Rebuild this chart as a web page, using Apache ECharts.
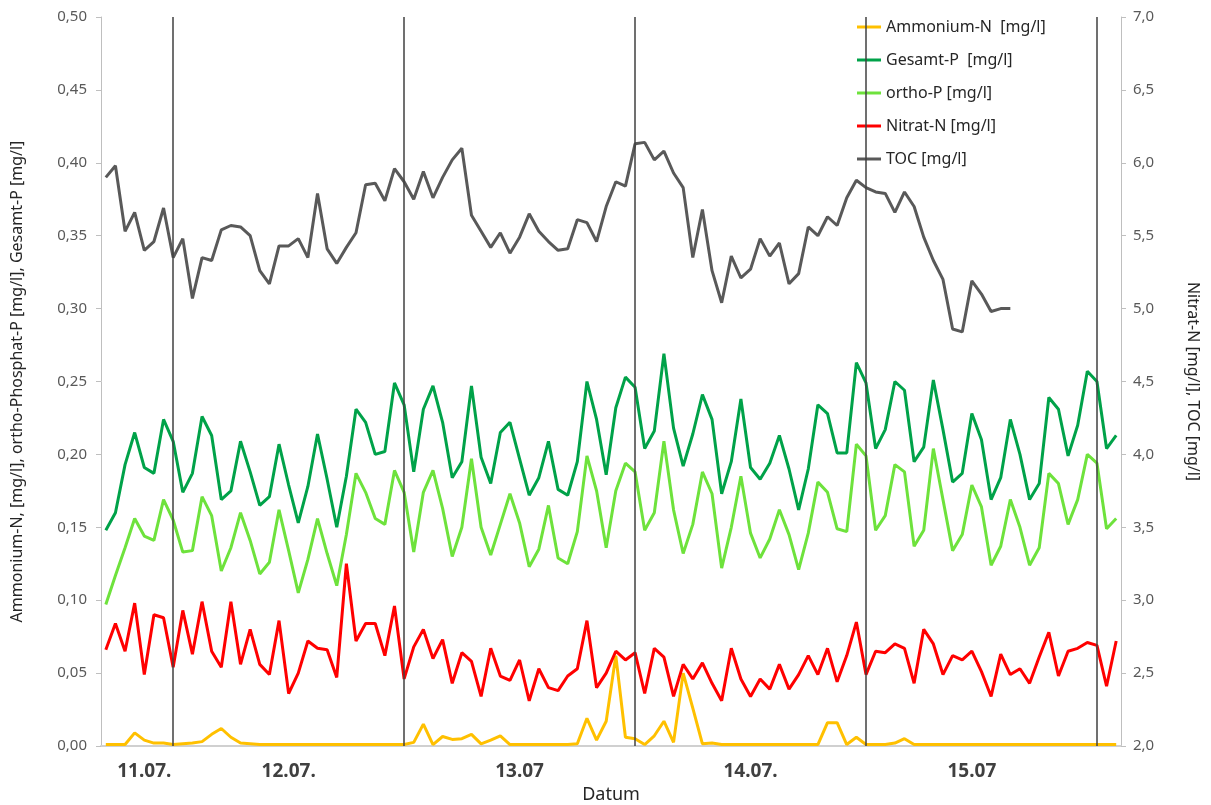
<!DOCTYPE html>
<html>
<head>
<meta charset="utf-8">
<script src="https://cdn.jsdelivr.net/npm/echarts@6/dist/echarts.min.js"></script>
<style>
html,body{margin:0;padding:0;background:#fff;}
#chart{width:1211px;height:805px;}
</style>
</head>
<body>
<div id="chart"></div>
<script>
// Hourly timestamps (10.07. 17:00 – 15.07. 02:00)
const categories = [
"10.07. 17:00","10.07. 18:00","10.07. 19:00","10.07. 20:00","10.07. 21:00","10.07. 22:00","10.07. 23:00",
"11.07. 00:00","11.07. 01:00","11.07. 02:00","11.07. 03:00","11.07. 04:00","11.07. 05:00","11.07. 06:00","11.07. 07:00","11.07. 08:00","11.07. 09:00","11.07. 10:00","11.07. 11:00","11.07. 12:00","11.07. 13:00","11.07. 14:00","11.07. 15:00","11.07. 16:00","11.07. 17:00","11.07. 18:00","11.07. 19:00","11.07. 20:00","11.07. 21:00","11.07. 22:00","11.07. 23:00",
"12.07. 00:00","12.07. 01:00","12.07. 02:00","12.07. 03:00","12.07. 04:00","12.07. 05:00","12.07. 06:00","12.07. 07:00","12.07. 08:00","12.07. 09:00","12.07. 10:00","12.07. 11:00","12.07. 12:00","12.07. 13:00","12.07. 14:00","12.07. 15:00","12.07. 16:00","12.07. 17:00","12.07. 18:00","12.07. 19:00","12.07. 20:00","12.07. 21:00","12.07. 22:00","12.07. 23:00",
"13.07. 00:00","13.07. 01:00","13.07. 02:00","13.07. 03:00","13.07. 04:00","13.07. 05:00","13.07. 06:00","13.07. 07:00","13.07. 08:00","13.07. 09:00","13.07. 10:00","13.07. 11:00","13.07. 12:00","13.07. 13:00","13.07. 14:00","13.07. 15:00","13.07. 16:00","13.07. 17:00","13.07. 18:00","13.07. 19:00","13.07. 20:00","13.07. 21:00","13.07. 22:00","13.07. 23:00",
"14.07. 00:00","14.07. 01:00","14.07. 02:00","14.07. 03:00","14.07. 04:00","14.07. 05:00","14.07. 06:00","14.07. 07:00","14.07. 08:00","14.07. 09:00","14.07. 10:00","14.07. 11:00","14.07. 12:00","14.07. 13:00","14.07. 14:00","14.07. 15:00","14.07. 16:00","14.07. 17:00","14.07. 18:00","14.07. 19:00","14.07. 20:00","14.07. 21:00","14.07. 22:00","14.07. 23:00",
"15.07. 00:00","15.07. 01:00","15.07. 02:00"
];

// x-axis tick labels (as printed in the original) and the category index they sit on
const xTickLabels = ["11.07.", "12.07.", "13.07", "14.07.", "15.07"];
const xTickIdx = [4, 19, 43, 67, 90];

// vertical day separator lines (midnight categories)
const dayLines = ["11.07. 00:00", "12.07. 00:00", "13.07. 00:00", "14.07. 00:00", "15.07. 00:00"];

const ammonium = [
0.001,0.001,0.001,0.009,0.004,0.002,0.002,0.001,0.0015,0.002,0.003,0.008,0.012,0.006,0.002,0.0015,
0.001,0.001,0.001,0.001,0.001,0.001,0.001,0.001,0.001,0.001,0.001,0.001,0.001,0.001,0.001,0.001,
0.0025,0.015,0.001,0.0065,0.0045,0.005,0.008,0.0015,0.004,0.007,
0.001,0.001,0.001,0.001,0.001,0.001,0.001,
0.0015,0.019,0.004,0.017,0.062,0.006,0.005,0.001,0.007,0.017,0.0025,0.050,0.026,0.0015,0.002,
0.001,0.001,0.001,0.001,0.001,0.001,0.001,0.001,0.001,0.001,0.001,
0.016,0.016,0.001,0.006,0.001,0.001,0.001,0.002,0.005,
0.001,0.001,0.001,0.001,0.001,0.001,0.001,0.001,0.001,0.001,0.001,0.001,0.001,0.001,0.001,0.001,0.001,0.001,0.001,0.001,0.001,0.001
];

const gesamtP = [
0.148,0.160,0.193,0.215,0.191,0.187,0.224,0.209,0.174,0.187,
0.226,0.213,0.169,0.175,0.209,0.188,0.165,0.171,0.207,0.179,
0.153,0.178,0.214,0.183,0.150,0.185,0.231,0.222,0.200,0.202,
0.249,0.234,0.188,0.231,0.247,0.222,0.184,0.195,0.247,0.198,
0.180,0.215,0.222,0.197,0.172,0.184,0.209,0.176,0.172,0.195,
0.250,0.224,0.186,0.232,0.253,0.246,0.204,0.216,0.269,0.218,
0.192,0.214,0.241,0.224,0.173,0.195,0.238,0.191,0.183,0.194,
0.213,0.190,0.162,0.190,0.234,0.228,0.201,0.201,0.263,0.249,
0.204,0.217,0.250,0.244,0.195,0.205,0.251,0.217,0.181,0.187,
0.228,0.210,0.169,0.184,0.224,0.200,0.169,0.180,0.239,0.231,
0.199,0.220,0.257,0.250,0.204,0.213
];

const orthoP = [
0.097,0.117,0.136,0.156,0.144,0.141,0.169,0.155,0.133,0.134,
0.171,0.158,0.120,0.136,0.160,0.141,0.118,0.126,0.162,0.134,
0.105,0.128,0.156,0.132,0.110,0.145,0.187,0.174,0.156,0.152,
0.189,0.174,0.133,0.174,0.189,0.163,0.130,0.150,0.197,0.150,
0.131,0.152,0.173,0.153,0.123,0.135,0.165,0.129,0.125,0.147,
0.199,0.175,0.136,0.175,0.194,0.188,0.148,0.160,0.209,0.162,
0.132,0.152,0.188,0.173,0.122,0.150,0.185,0.146,0.129,0.142,
0.162,0.145,0.121,0.146,0.181,0.174,0.149,0.147,0.207,0.199,
0.148,0.158,0.193,0.188,0.137,0.148,0.204,0.169,0.134,0.145,
0.179,0.164,0.124,0.137,0.169,0.150,0.124,0.136,0.187,0.180,
0.152,0.169,0.200,0.194,0.149,0.156
];

const nitratN = [
2.66,2.84,2.65,2.98,2.49,2.90,2.88,2.54,2.93,2.63,
2.99,2.65,2.54,2.99,2.56,2.80,2.56,2.49,2.86,2.36,
2.50,2.72,2.67,2.66,2.47,3.25,2.72,2.84,2.84,2.62,
2.96,2.46,2.68,2.80,2.60,2.73,2.43,2.64,2.58,2.34,
2.67,2.48,2.45,2.59,2.31,2.53,2.40,2.38,2.48,2.53,
2.86,2.40,2.50,2.65,2.59,2.64,2.36,2.67,2.61,2.34,
2.56,2.46,2.57,2.43,2.31,2.67,2.46,2.34,2.46,2.39,
2.56,2.39,2.49,2.62,2.49,2.67,2.44,2.62,2.85,2.49,
2.65,2.64,2.70,2.67,2.43,2.80,2.70,2.49,2.62,2.59,
2.65,2.51,2.34,2.63,2.49,2.53,2.43,2.61,2.78,2.48,
2.65,2.67,2.71,2.69,2.41,2.72
];

const toc = [
5.90,5.98,5.53,5.66,5.40,5.46,5.69,5.35,5.48,5.07,
5.35,5.33,5.54,5.57,5.56,5.50,5.26,5.17,5.43,5.43,
5.48,5.35,5.79,5.41,5.31,5.42,5.52,5.85,5.86,5.74,
5.96,5.87,5.75,5.94,5.76,5.90,6.02,6.10,5.64,5.53,
5.42,5.52,5.38,5.49,5.65,5.53,5.46,5.40,5.41,5.61,
5.59,5.46,5.70,5.87,5.84,6.13,6.14,6.02,6.08,5.93,
5.83,5.35,5.68,5.26,5.04,5.36,5.21,5.27,5.48,5.36,
5.45,5.17,5.24,5.56,5.50,5.63,5.57,5.76,5.88,5.83,
5.80,5.79,5.66,5.80,5.70,5.49,5.33,5.20,4.86,4.84,
5.19,5.10,4.98,5.00,5.00,
null,null,null,null,null,null,null,null,null,null,null
];

const seriesNames = ["Ammonium-N  [mg/l]", "Gesamt-P  [mg/l]", "ortho-P [mg/l]", "Nitrat-N [mg/l]", "TOC [mg/l]"];
const seriesColors = ["#FFC000", "#00A249", "#6EE23C", "#FF0000", "#595959"];

const FONT = "'Noto Sans', sans-serif";
const chart = echarts.init(document.getElementById('chart'), null, {renderer: 'canvas'});

function lineSeries(i, data, yIdx, extra) {
  return Object.assign({
    name: seriesNames[i],
    type: 'line',
    data: data,
    yAxisIndex: yIdx,
    symbol: 'none',
    showSymbol: false,
    smooth: false,
    connectNulls: false,
    lineStyle: {color: seriesColors[i], width: 3},
    itemStyle: {color: seriesColors[i]},
    emphasis: {disabled: true}
  }, extra || {});
}

chart.setOption({
  animation: false,
  backgroundColor: '#ffffff',
  textStyle: {fontFamily: FONT},
  grid: {left: 101, right: 90, top: 17, bottom: 59, containLabel: false, outerBoundsMode: 'none'},
  legend: {
    orient: 'vertical',
    left: 852,
    top: 12,
    padding: [5, 10, 5, 5],
    itemGap: 13,
    itemWidth: 24,
    itemHeight: 3,
    icon: 'rect',
    backgroundColor: '#ffffff',
    textStyle: {fontFamily: FONT, fontSize: 16, color: '#262626', lineHeight: 20},
    data: seriesNames
  },
  xAxis: {
    type: 'category',
    data: categories,
    boundaryGap: true,
    name: 'Datum',
    nameLocation: 'middle',
    nameGap: 40,
    nameTextStyle: {fontFamily: FONT, fontSize: 18, color: '#262626'},
    axisLine: {show: true, lineStyle: {color: '#d0d0d0', width: 2}},
    axisTick: {show: false},
    splitLine: {show: false},
    axisLabel: {
      interval: function (idx) { return xTickIdx.indexOf(idx) >= 0; },
      formatter: function (val, idx) { const k = xTickIdx.indexOf(idx); return k >= 0 ? xTickLabels[k] : ''; },
      fontFamily: FONT, fontSize: 19, fontWeight: 'bold', color: '#404040', margin: 16
    }
  },
  yAxis: [
    {
      type: 'value', min: 0, max: 0.5, interval: 0.05,
      name: 'Ammonium-N, [mg/l], ortho-Phosphat-P [mg/l], Gesamt-P [mg/l]',
      nameLocation: 'middle', nameGap: 76, nameRotate: 90,
      nameTextStyle: {fontFamily: FONT, fontSize: 16, color: '#262626'},
      axisLine: {show: true, lineStyle: {color: '#bfbfbf', width: 1}},
      axisTick: {show: true, length: 5, lineStyle: {color: '#bfbfbf'}},
      splitLine: {show: false},
      axisLabel: {formatter: v => v.toFixed(2).replace('.', ','), fontFamily: FONT, fontSize: 15, color: '#595959', margin: 14}
    },
    {
      type: 'value', min: 2, max: 7, interval: 0.5,
      name: 'Nitrat-N [mg/l], TOC [mg/l]',
      nameLocation: 'middle', nameGap: 64, nameRotate: -90,
      nameTextStyle: {fontFamily: FONT, fontSize: 16, color: '#262626'},
      axisLine: {show: true, lineStyle: {color: '#bfbfbf', width: 1}},
      axisTick: {show: true, length: 5, lineStyle: {color: '#bfbfbf'}},
      splitLine: {show: false},
      axisLabel: {formatter: v => v.toFixed(1).replace('.', ','), fontFamily: FONT, fontSize: 15, color: '#595959', margin: 12}
    }
  ],
  series: [
    lineSeries(0, ammonium, 0, {
      markLine: {
        silent: true,
        symbol: ['none', 'none'],
        label: {show: false},
        lineStyle: {color: '#404040', width: 1.5, type: 'solid'},
        emphasis: {disabled: true},
        data: dayLines.map(d => ({xAxis: d}))
      }
    }),
    lineSeries(1, gesamtP, 0),
    lineSeries(2, orthoP, 0),
    lineSeries(3, nitratN, 1),
    lineSeries(4, toc, 1)
  ]
});
</script>
</body>
</html>
